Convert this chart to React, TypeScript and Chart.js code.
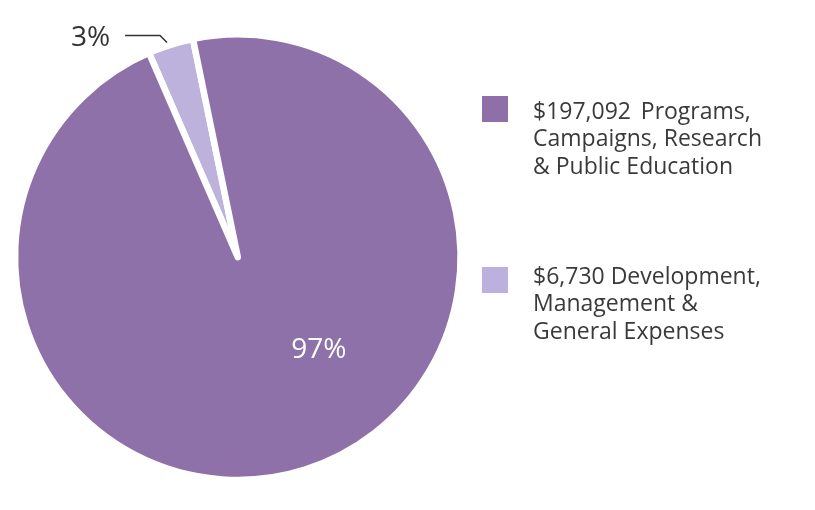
import React, { useEffect, useRef } from "react";
import { Chart, registerables } from "chart.js";

Chart.register(...registerables);

const categories = [
  "$6,730 Development, Management & General Expenses",
  "$197,092 Programs, Campaigns, Research & Public Education",
];
const values = [6730, 197092];
const percentLabels = ["3%", "97%"];
const colors = ["#bcb2dc", "#8e71a8"];
const legendLines = [
  ["$197,092\u2009 Programs,", "Campaigns, Research", "& Public Education"],
  ["$6,730 Development,", "Management &", "General Expenses"],
];
const legendColors = ["#8e6fa8", "#bbb0de"];

const FONT = '"Open Sans", "Noto Sans", sans-serif';

const overlayPlugin = {
  id: "overlay",
  afterDraw(chart: any) {
    const ctx = chart.ctx as CanvasRenderingContext2D;
    const meta = chart.getDatasetMeta(0);
    const arc = meta.data[0];
    const cx = arc.x;
    const cy = arc.y;
    ctx.save();
    // inside label (97%)
    ctx.fillStyle = "#ffffff";
    ctx.font = `28px ${FONT}`;
    ctx.textAlign = "center";
    ctx.textBaseline = "alphabetic";
    ctx.fillText(percentLabels[1], cx + 81, cy + 101);
    // outside label (3%) with leader line
    ctx.fillStyle = "#333333";
    ctx.textAlign = "left";
    ctx.fillText(percentLabels[0], 71, 45.5);
    ctx.strokeStyle = "#333333";
    ctx.lineWidth = 1.5;
    ctx.beginPath();
    ctx.moveTo(125, 35.5);
    ctx.lineTo(160, 35.5);
    ctx.lineTo(167, 42.5);
    ctx.stroke();
    // legend
    const blocks = [
      { y: 96, base: 118.5 },
      { y: 267, base: 283.5 },
    ];
    ctx.font = `23px ${FONT}`;
    blocks.forEach((b, i) => {
      ctx.fillStyle = legendColors[i];
      ctx.fillRect(482, b.y, 26, 26);
      ctx.fillStyle = "#3a3a3a";
      legendLines[i].forEach((line, j) => {
        ctx.fillText(line, 533, b.base + j * 27.5);
      });
    });
    ctx.restore();
  },
};

export default function App() {
  const ref = useRef<HTMLCanvasElement | null>(null);
  useEffect(() => {
    let chart: Chart | null = null;
    let cancelled = false;
    const make = () => {
      if (cancelled || !ref.current) return;
      chart = new Chart(ref.current, {
        type: "pie",
        data: {
          labels: categories,
          datasets: [
            {
              data: values,
              backgroundColor: colors,
              borderColor: "#ffffff",
              borderWidth: 6.5,
              borderJoinStyle: "round",
              hoverOffset: 0,
              radius: 222.8,
            } as any,
          ],
        },
        options: {
          responsive: false,
          animation: false,
          rotation: -23.5,
          events: [],
          layout: { padding: { left: 0, right: 339.4, top: 10, bottom: 5.6 } },
          plugins: {
            legend: { display: false },
            tooltip: { enabled: false },
            title: { display: false },
          },
        },
        plugins: [overlayPlugin],
      });
    };
    const fontsAny = (document as any).fonts;
    if (fontsAny && fontsAny.load) {
      Promise.all([
        fontsAny.load('23px "Open Sans"'),
        fontsAny.load('28px "Open Sans"'),
      ])
        .catch(() => null)
        .then(make);
    } else {
      make();
    }
    return () => {
      cancelled = true;
      if (chart) chart.destroy();
    };
  }, []);
  return (
    <div style={{ position: "absolute", left: 0, top: 0, width: 815, height: 510, background: "#ffffff" }}>
      <canvas ref={ref} width={815} height={510} style={{ display: "block" }} />
    </div>
  );
}
